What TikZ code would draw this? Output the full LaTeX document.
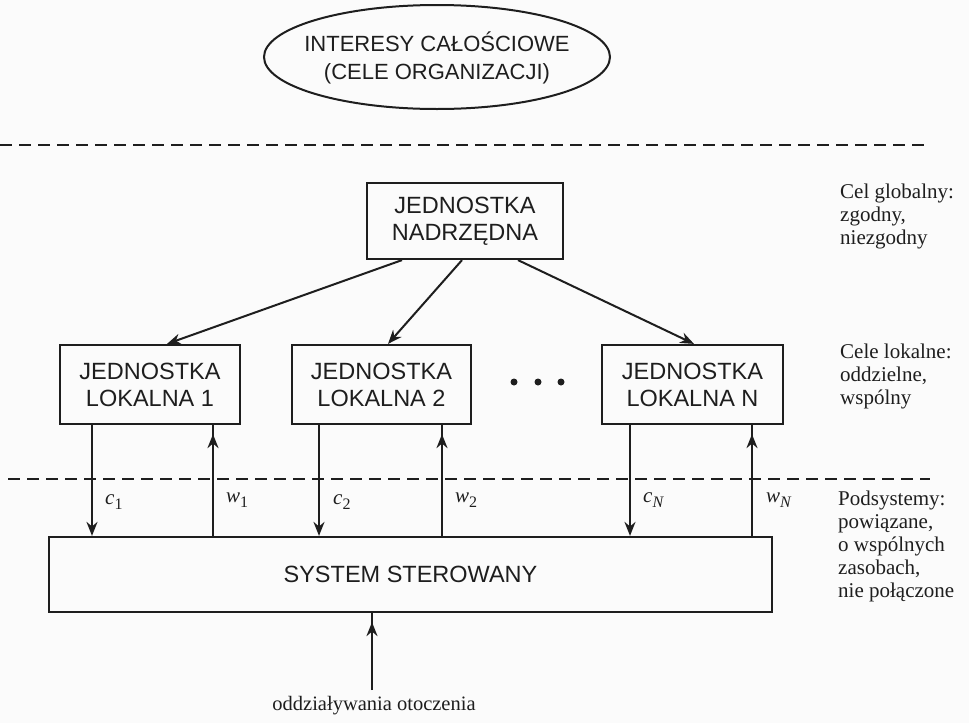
\documentclass[tikz,border=0pt]{standalone}
\usepackage{fontspec}
\setmainfont{Liberation Serif}
\newfontfamily\boxfont{Liberation Sans}
\usetikzlibrary{arrows.meta,decorations.markings,shapes.geometric}

\definecolor{ink}{HTML}{1E1E1E}
\definecolor{paper}{HTML}{FBFBFB}

\tikzset{
  unitbox/.style={draw=ink, line width=2.2pt, align=center, text=ink,
    font=\boxfont\fontsize{23.5}{27}\selectfont, inner sep=0pt},
  goalshape/.style={ellipse, draw=ink, line width=2pt, inner sep=0pt},
  sidelabel/.style={anchor=north west, align=left, text=ink, inner sep=0pt,
    font=\fontsize{21}{23}\selectfont},
  divider/.style={draw=ink, line width=1.8pt, dash pattern=on 12pt off 7pt},
  downarrow/.style={draw=ink, line width=2pt, -{Stealth[length=14pt,width=11pt]}},
  uparrow/.style={draw=ink, line width=2pt,
    postaction={decorate, decoration={markings,
      mark=at position -9pt with {\arrow{Stealth[length=14pt,width=11pt]}}}}},
  flowlabel/.style={anchor=west, text=ink, inner sep=0pt,
    font=\fontsize{21}{23}\selectfont},
  dot/.style={circle, fill=ink, minimum size=7pt, inner sep=0pt},
}

\newcommand{\sig}[2]{\textit{#1}\raisebox{-0.5ex}{\fontsize{16}{16}\selectfont #2}}

\begin{document}
\begin{tikzpicture}[x=1pt, y=-1pt]
  \useasboundingbox[fill=paper] (0,0) rectangle (969,723);

  % organisation-wide goals
  \node[goalshape, minimum width=346pt, minimum height=104pt] (goal) at (437,57) {};
  \node[align=center, text=ink, font=\boxfont\fontsize{22}{28}\selectfont] (goaltext) at (437,58)
    {INTERESY CAŁOŚCIOWE\\(CELE ORGANIZACJI)};

  % level separators
  \draw[divider] (0,145) -- (930,145);
  \draw[divider] (8,479) -- (930,479);

  % units
  \node[unitbox, minimum width=196pt, minimum height=76pt] (top) at (465,221)
    {JEDNOSTKA\\NADRZĘDNA};
  \node[unitbox, minimum width=180pt, minimum height=79pt] (l1) at (150,384.5)
    {JEDNOSTKA\\LOKALNA 1};
  \node[unitbox, minimum width=179pt, minimum height=79pt] (l2) at (381.5,384.5)
    {JEDNOSTKA\\LOKALNA 2};
  \node[unitbox, minimum width=181pt, minimum height=79pt] (ln) at (692.5,384.5)
    {JEDNOSTKA\\LOKALNA N};
  \node[unitbox, minimum width=723pt, minimum height=75pt] (sys) at (410.5,574.5)
    {SYSTEM STEROWANY};

  % ellipsis between local units
  \node[dot] (d1) at (514,382) {};
  \node[dot] (d2) at (538,382) {};
  \node[dot] (d3) at (561,382) {};

  % coordination from the superior unit
  \draw[downarrow] ([xshift=-63pt]top.south) -- ([xshift=17pt]l1.north);
  \draw[downarrow] ([xshift=-3pt]top.south) -- ([xshift=6.5pt]l2.north);
  \draw[downarrow] ([xshift=53pt]top.south) -- ([xshift=1.5pt]ln.north);

  % control signals c and responses w
  \coordinate (c1) at (92,0);
  \coordinate (w1) at (213,0);
  \coordinate (c2) at (319,0);
  \coordinate (w2) at (442,0);
  \coordinate (cn) at (630,0);
  \coordinate (wn) at (752,0);

  \draw[downarrow] (l1.south -| c1) -- (sys.north -| c1);
  \draw[uparrow] (sys.north -| w1) -- (l1.south -| w1);
  \draw[downarrow] (l2.south -| c2) -- (sys.north -| c2);
  \draw[uparrow] (sys.north -| w2) -- (l2.south -| w2);
  \draw[downarrow] (ln.south -| cn) -- (sys.north -| cn);
  \draw[uparrow] (sys.north -| wn) -- (ln.south -| wn);

  \node[flowlabel] (lc1) at (105,502) {\sig{c}{1}};
  \node[flowlabel] (lw1) at (226,500) {\sig{w}{1}};
  \node[flowlabel] (lc2) at (333,502) {\sig{c}{2}};
  \node[flowlabel] (lw2) at (455,500) {\sig{w}{2}};
  \node[flowlabel] (lcn) at (643,500) {\sig{c}{\textit{N}}};
  \node[flowlabel] (lwn) at (766,500) {\sig{w}{\textit{N}}};

  % environment influence
  \coordinate (env) at (372,690);
  \draw[uparrow] (env) -- (sys.south -| env);
  \node[text=ink, font=\fontsize{20.5}{24}\selectfont] (envtext) at (374,706)
    {oddziaływania otoczenia};

  % level descriptions
  \node[sidelabel] (goalnote) at (840,184) {Cel globalny:\\zgodny,\\niezgodny};
  \node[sidelabel] (localnote) at (840,344) {Cele lokalne:\\oddzielne,\\wspólny};
  \node[sidelabel] (subnote) at (838,491)
    {Podsystemy:\\powiązane,\\o wspólnych\\zasobach,\\nie połączone};
\end{tikzpicture}
\end{document}
